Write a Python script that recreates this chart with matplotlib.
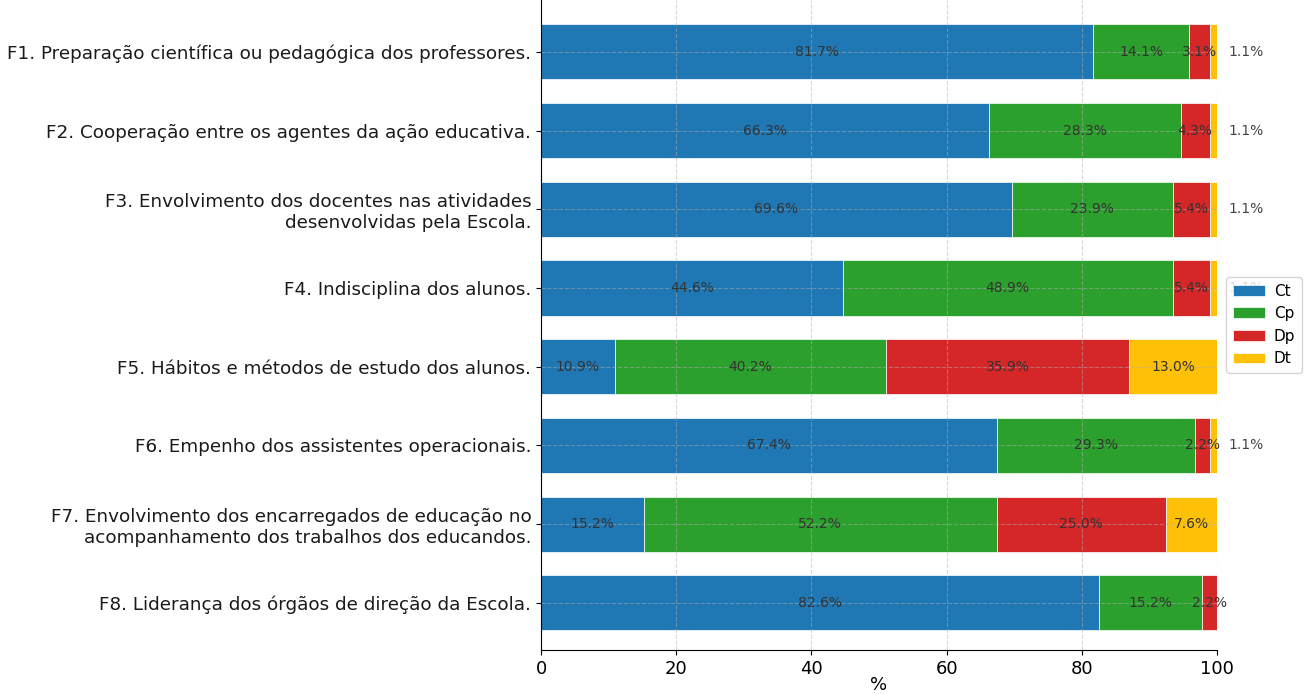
import matplotlib
matplotlib.use("Agg")
import matplotlib.pyplot as plt
import numpy as np

factors = [
    "F1. Preparação científica ou pedagógica dos professores.",
    "F2. Cooperação entre os agentes da ação educativa.",
    "F3. Envolvimento dos docentes nas atividades\ndesenvolvidas pela Escola.",
    "F4. Indisciplina dos alunos.",
    "F5. Hábitos e métodos de estudo dos alunos.",
    "F6. Empenho dos assistentes operacionais.",
    "F7. Envolvimento dos encarregados de educação no\nacompanhamento dos trabalhos dos educandos.",
    "F8. Liderança dos órgãos de direção da Escola.",
]
ct = [81.7, 66.3, 69.6, 44.6, 10.9, 67.4, 15.2, 82.6]
cp = [14.1, 28.3, 23.9, 48.9, 40.2, 29.3, 52.2, 15.2]
dp = [3.1, 4.3, 5.4, 5.4, 35.9, 2.2, 25.0, 2.2]
dt = [1.1, 1.1, 1.1, 1.1, 13.0, 1.1, 7.6, 0.0]

series = [("Ct", ct, "#1f77b4"), ("Cp", cp, "#2ca02c"),
          ("Dp", dp, "#d62728"), ("Dt", dt, "#ffc107")]

fig = plt.figure(figsize=(13.04, 6.94), dpi=100)
ax = fig.add_axes([0.4149, 0.0634, 0.5184, 0.9366])

y = np.arange(len(factors))
left = np.zeros(len(factors))
for name, vals, col in series:
    vals = np.array(vals)
    ax.barh(y, vals, left=left, height=0.7, color=col, label=name,
            edgecolor="white", linewidth=0.5)
    for i, v in enumerate(vals):
        if v <= 0:
            continue
        if name == "Dt" and v < 2:
            ax.text(101.7, y[i], f"{v:.1f}%", ha="left", va="center",
                    fontsize=10, color="#444444")
        else:
            ax.text(left[i] + v / 2, y[i], f"{v:.1f}%", ha="center",
                    va="center", fontsize=10, color="#333333")
    left += vals

ax.set_yticks(y)
ax.set_yticklabels(factors, fontsize=13.2, color="#1a1a1a")
ax.set_xlim(0, 100)
ax.set_ylim(7.6, -0.66)
ax.set_xticks([0, 20, 40, 60, 80, 100])
ax.tick_params(axis="x", labelsize=13)
ax.set_xlabel("%", fontsize=13, labelpad=-1)
ax.grid(True, linestyle="--", alpha=0.5)
ax.spines["top"].set_visible(False)
ax.spines["right"].set_visible(False)

ax.legend(loc="center left", bbox_to_anchor=(1.013, 0.5), borderaxespad=0,
          fontsize=11, handlelength=2.1, handletextpad=0.6, borderpad=0.45)

fig.savefig("out.png", dpi=100)
